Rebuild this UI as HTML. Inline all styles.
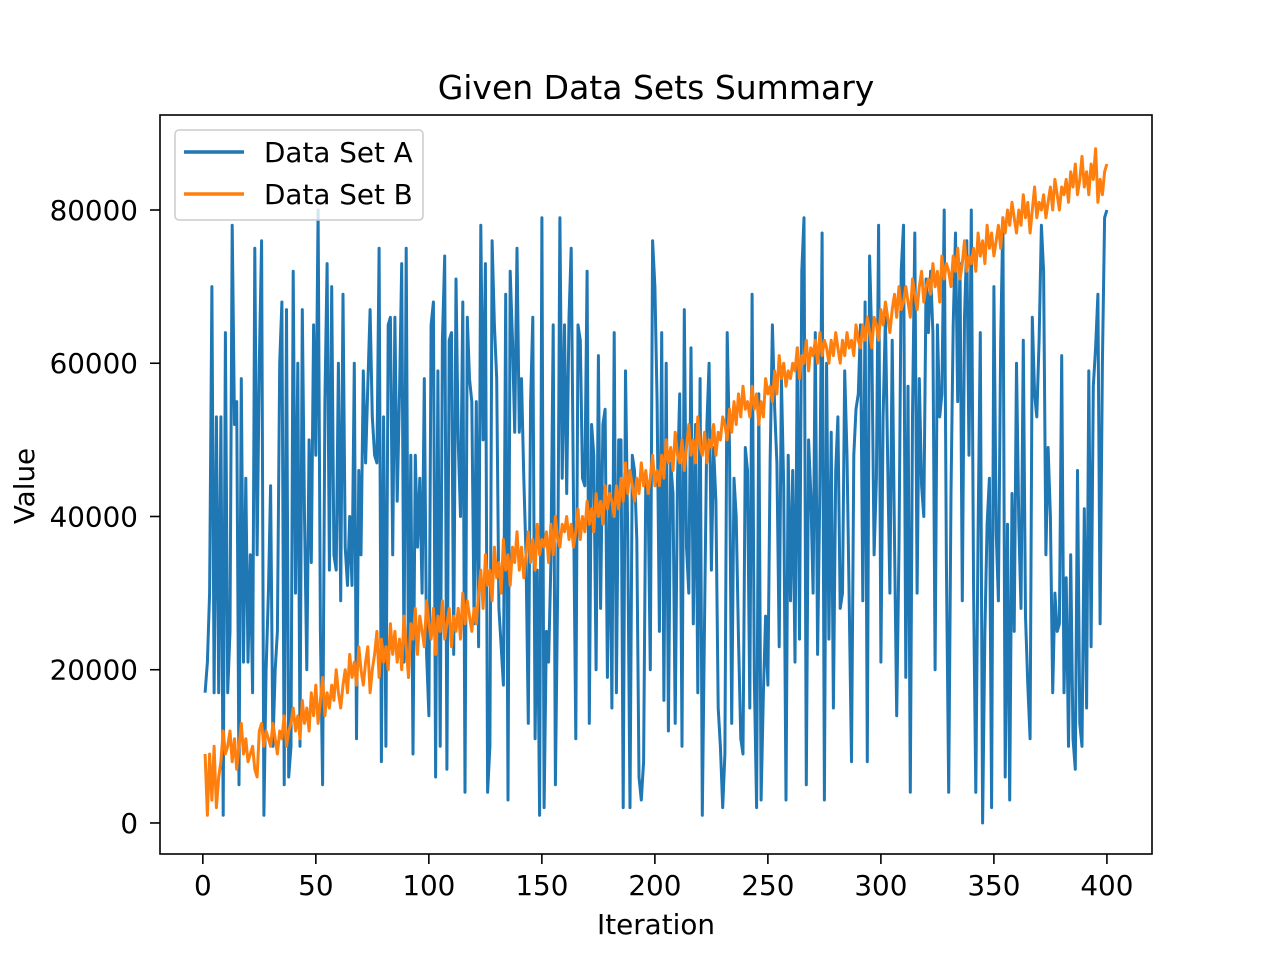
<!DOCTYPE html>
<html><head><meta charset="utf-8"><style>
body{margin:0;background:#fff}
svg text{font-family:"DejaVu Sans","Liberation Sans",sans-serif;fill:#000}
</style></head><body>
<svg id="chart" width="1280" height="960" xmlns="http://www.w3.org/2000/svg">
<rect width="1280" height="960" fill="#fff"/>
<text x="656" y="99" font-size="33" text-anchor="middle">Given Data Sets Summary</text>
<g id="plot"></g>
<rect x="160" y="115" width="992" height="739" fill="none" stroke="#000" stroke-width="1.6"/>
<g id="ticks"></g>
<text x="656" y="934" font-size="27.8" text-anchor="middle">Iteration</text>
<text transform="translate(34,486) rotate(-90)" font-size="27.8" text-anchor="middle">Value</text>
<g>
<rect x="175" y="130" width="248" height="90" rx="4" fill="#fff" fill-opacity="0.8" stroke="#ccc" stroke-width="1.5"/>
<line x1="184" y1="152" x2="244" y2="152" stroke="#1f77b4" stroke-width="3.5"/>
<text x="264" y="162" font-size="27.8">Data Set A</text>
<line x1="184" y1="194" x2="244" y2="194" stroke="#ff7f0e" stroke-width="3.5"/>
<text x="264" y="204" font-size="27.8">Data Set B</text>
</g>
</svg>
<script>
const seriesA=[17,21,30,70,17,53,17,53,1,64,17,25,78,52,55,5,58,21,45,21,35,17,75,35,60,76,1,20,30,44,10,20,25,60,68,5,67,6,10,72,30,60,10,67,40,20,50,34,65,48,80,25,5,55,73,33,70,35,33,60,29,69,36,31,40,31,60,11,46,35,59,47,57,67,53,48,47,75,8,53,10,65,66,35,66,42,56,73,21,75,19,48,9,48,36,45,30,58,22,14,65,68,6,59,10,63,74,7,63,64,22,71,50,40,68,4,66,58,55,26,55,23,78,50,73,4,10,76,65,58,28,23,18,69,3,72,63,51,75,51,58,45,35,13,55,66,11,33,1,79,2,25,21,34,65,5,31,79,45,65,43,66,75,42,11,65,63,45,44,72,13,52,48,20,61,28,52,54,19,44,15,64,17,50,50,2,59,38,2,48,46,37,6,3,8,45,43,20,76,70,55,25,64,16,60,12,47,43,13,45,56,10,67,36,30,62,26,52,17,58,1,27,52,60,33,49,42,15,10,2,9,64,49,13,45,40,24,11,9,49,46,15,69,19,2,56,3,17,27,18,47,65,54,47,23,58,44,3,48,29,46,21,62,24,72,79,5,50,43,30,64,22,44,77,3,60,24,51,15,46,53,28,30,59,48,29,8,48,54,56,65,29,68,8,74,63,35,45,78,21,53,66,47,30,63,37,14,36,72,78,19,57,4,53,77,30,58,44,40,71,64,72,64,20,65,53,56,80,34,4,43,65,77,55,73,29,66,76,48,80,30,4,38,64,0,25,39,45,2,70,38,29,63,79,6,39,3,43,25,60,39,28,63,27,18,11,66,56,53,63,78,72,35,49,40,17,30,25,26,61,17,32,10,35,11,7,46,13,10,41,15,59,23,57,62,69,26,60,79,80];
const seriesB=[9,1,9,3,10,2,6,8,12,9,10,12,8,11,7,10,13,9,11,8,9,10,7,6,12,13,10,12,11,10,13,11,9,12,11,14,10,12,13,15,12,14,11,16,13,15,12,17,14,18,13,16,19,14,17,15,18,16,20,17,15,18,20,17,22,19,21,18,23,20,18,21,23,17,20,22,25,19,24,21,23,20,26,22,25,21,24,20,27,23,19,26,24,28,22,27,25,23,29,26,24,28,22,27,25,29,24,26,28,23,27,25,28,24,30,26,29,27,25,28,26,30,33,28,35,31,33,29,36,32,34,30,37,33,35,31,36,34,38,33,36,32,35,38,34,37,33,39,35,37,36,38,34,39,35,40,37,36,39,38,40,37,39,36,38,41,37,40,38,42,39,41,38,43,40,42,39,44,41,43,42,40,44,41,45,42,47,43,46,44,42,45,43,47,44,46,43,45,48,44,46,44,48,45,50,47,49,46,51,48,47,50,46,49,52,48,50,47,53,49,48,51,47,50,49,52,48,51,50,53,52,50,54,51,55,52,56,53,57,54,55,53,57,54,56,52,55,53,58,56,57,55,59,56,61,58,60,57,59,58,60,59,62,58,61,60,63,59,62,61,63,60,64,61,63,62,60,63,61,64,62,60,63,61,64,62,63,61,65,63,62,65,63,66,64,62,66,65,63,67,65,68,66,64,67,69,66,70,67,68,70,68,66,71,69,67,70,72,68,70,71,69,73,70,72,68,74,71,73,72,70,74,72,75,71,73,76,72,74,73,75,72,77,74,76,73,78,75,77,74,76,78,75,79,77,80,78,81,79,77,80,78,82,79,81,77,80,83,79,81,80,82,79,81,83,80,84,82,80,83,82,84,81,85,83,86,82,84,87,83,85,82,86,84,88,81,84,82,85,86];
const xTicks=[0,50,100,150,200,250,300,350,400];
const yTicks=[0,20000,40000,60000,80000];
const NS="http://www.w3.org/2000/svg";
const X0=160,X1=1152,Y0=854,Y1=115;
const xmin=-18.95,xmax=419.95,ymin=-4050,ymax=92400;
function sx(v){return X0+(v-xmin)/(xmax-xmin)*(X1-X0);}
function sy(v){return Y0-(v-ymin)/(ymax-ymin)*(Y0-Y1);}
function mk(t,a){const e=document.createElementNS(NS,t);for(const k in a)e.setAttribute(k,a[k]);return e;}
const plot=document.getElementById('plot');
function drawLine(data,color,name){
  const pts=data.map((v,i)=>sx(i+1).toFixed(1)+','+sy(v*1000).toFixed(1)).join(' ');
  const p=mk('polyline',{points:pts,fill:'none',stroke:color,'stroke-width':3,'stroke-linejoin':'round'});
  
  
  plot.appendChild(p);
}
drawLine(seriesA,'#1f77b4','series-a-line');
drawLine(seriesB,'#ff7f0e','series-b-line');
const tg=document.getElementById('ticks');
xTicks.forEach(t=>{
  const x=sx(t);
  tg.appendChild(mk('line',{x1:x,x2:x,y1:Y0,y2:Y0+10,stroke:'#000','stroke-width':1.6}));
  const tx=mk('text',{x:x,y:Y0+41,'font-size':27.8,'text-anchor':'middle'});
  tx.textContent=t;
  
  
  tg.appendChild(tx);
});
yTicks.forEach(t=>{
  const y=sy(t);
  tg.appendChild(mk('line',{x1:X0-10,x2:X0,y1:y,y2:y,stroke:'#000','stroke-width':1.6}));
  const tx=mk('text',{x:X0-22,y:y+10,'font-size':27.8,'text-anchor':'end'});
  tx.textContent=t;
  
  
  tg.appendChild(tx);
});
</script>
</body></html>
